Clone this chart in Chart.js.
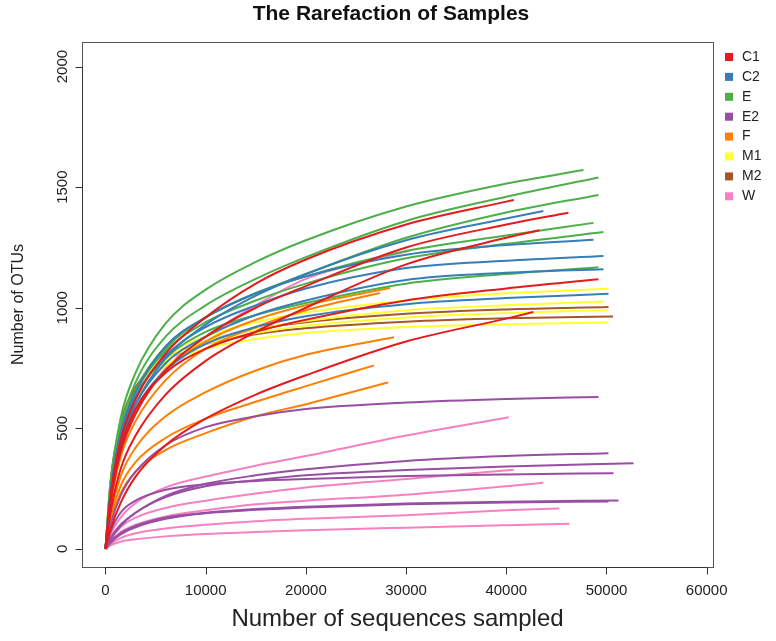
<!DOCTYPE html>
<html>
  <head>
    <meta charset="utf-8" />
    <title>The Rarefaction of Samples</title>
    <style>
      body { margin: 0; background: #fff; }
      #wrap { width: 776px; height: 641px; }
    </style>
  </head>
  <body>
    <div id="wrap"><canvas id="myChart" width="776" height="641"></canvas></div>

    <script src="https://cdn.jsdelivr.net/npm/chart.js@4/dist/chart.umd.min.js"></script>
    <script>
      const depthSteps = [0, 500, 1500, 3000, 6000, 10000, 15000, 20000, 30000, 40000];

      const groups = ["C1", "C2", "E", "E2", "F", "M1", "M2", "W"];
      const groupColors = ["#E41A1C", "#377EB8", "#4DAF4A", "#984EA3", "#FF7F00", "#FFFF33", "#A65628", "#F781BF"];

      const xTicks = [0, 10000, 20000, 30000, 40000, 50000, 60000];
      const yTicks = [0, 500, 1000, 1500, 2000];

      // OTUs at each depth step, and the last point [depth, OTUs] of each curve
      const C1_otus = [
        [0, 220, 450, 620, 810, 960, 1100, 1200, 1345, 1440],
        [0, 190, 400, 560, 740, 880, 1000, 1090, 1250, 1345],
        [0, 150, 330, 470, 640, 780, 900, 1000, 1180, 1290],
        [0, 200, 420, 580, 730, 830, 900, 950, 1030, 1080],
        [0, 80, 190, 300, 430, 540, 640, 720, 860, 955],
      ];
      const C1_last = [[40750, 1447], [46200, 1394], [43300, 1321], [49200, 1118], [42700, 982]];

      const C2_otus = [
        [0, 220, 440, 600, 790, 930, 1050, 1140, 1280, 1370],
        [0, 240, 480, 650, 840, 960, 1060, 1130, 1220, 1260],
        [0, 230, 460, 630, 800, 920, 1010, 1080, 1165, 1195],
        [0, 220, 440, 600, 770, 880, 970, 1030, 1115, 1145],
        [0, 215, 420, 580, 740, 850, 920, 965, 1015, 1040],
      ];
      const C2_last = [[43700, 1401], [48700, 1282], [49700, 1215], [49700, 1160], [50200, 1058]];

      const E_otus = [
        [0, 270, 540, 730, 935, 1075, 1190, 1280, 1420, 1515],
        [0, 250, 505, 690, 880, 1010, 1120, 1210, 1360, 1460],
        [0, 240, 480, 650, 830, 960, 1060, 1140, 1290, 1395],
        [0, 250, 490, 660, 840, 960, 1060, 1130, 1235, 1300],
        [0, 245, 480, 650, 820, 940, 1030, 1100, 1205, 1265],
        [0, 235, 460, 630, 790, 900, 970, 1020, 1100, 1140],
      ];
      const E_last = [[47700, 1571], [49200, 1540], [49200, 1468], [48700, 1352], [49700, 1314], [49200, 1168]];

      const E2_otus = [
        [0, 100, 220, 320, 430, 505, 550, 580, 607, 622],
        [0, 45, 100, 150, 220, 270, 305, 330, 365, 385],
        [0, 40, 95, 150, 215, 260, 285, 305, 327, 342],
        [0, 70, 150, 200, 245, 268, 282, 290, 302, 309],
        [0, 30, 65, 95, 130, 150, 165, 175, 188, 196],
        [0, 25, 60, 90, 125, 148, 162, 172, 185, 192],
      ];
      const E2_last = [[49200, 630], [50200, 397], [52700, 355], [50700, 314], [51200, 201], [50200, 197]];

      const F_otus = [
        [0, 200, 410, 570, 740, 860, 950, 1010],
        [0, 180, 380, 530, 700, 830, 920, 990],
        [0, 140, 300, 420, 550, 650, 740, 805],
        [0, 120, 260, 360, 460, 540, 610, 675],
        [0, 110, 230, 320, 410, 480, 550, 600],
      ];
      const F_last = [[28400, 1082], [27400, 1061], [28800, 878], [26800, 761], [28200, 690]];

      const M1_otus = [
        [0, 250, 490, 650, 800, 880, 940, 980, 1030, 1060],
        [0, 260, 500, 650, 790, 860, 910, 945, 990, 1010],
        [0, 255, 490, 640, 780, 850, 895, 925, 960, 978],
        [0, 250, 480, 620, 760, 830, 870, 895, 920, 932],
      ];
      const M1_last = [[50200, 1079], [49700, 1026], [50200, 990], [50200, 939]];

      const M2_otus = [
        [0, 280, 520, 670, 790, 860, 910, 940, 975, 993],
        [0, 270, 510, 660, 780, 850, 890, 915, 942, 956],
      ];
      const M2_last = [[50200, 1003], [50650, 964]];

      const W_otus = [
        [0, 180, 390, 560, 750, 880, 1010, 1120],
        [0, 60, 130, 190, 255, 300, 345, 385, 470],
        [0, 40, 90, 130, 170, 200, 230, 255, 290],
        [0, 30, 70, 100, 135, 160, 185, 200, 225, 260],
        [0, 20, 45, 65, 85, 100, 115, 125, 140, 160],
        [0, 15, 30, 40, 52, 62, 70, 77, 88, 98],
      ];
      const W_last = [[30400, 1237], [40250, 546], [40750, 328], [43700, 274], [45300, 168], [46300, 104]];

      const groupOtus = [C1_otus, C2_otus, E_otus, E2_otus, F_otus, M1_otus, M2_otus, W_otus];
      const groupLast = [C1_last, C2_last, E_last, E2_last, F_last, M1_last, M2_last, W_last];

      const datasets = [];
      for (let g = 0; g < groups.length; g++) {
        for (let i = 0; i < groupOtus[g].length; i++) {
          const pts = groupOtus[g][i].map((v, k) => ({ x: depthSteps[k], y: v }));
          pts.push({ x: groupLast[g][i][0], y: groupLast[g][i][1] });
          datasets.push({
            label: groups[g],
            data: pts,
            borderColor: groupColors[g],
            borderWidth: 2,
            pointRadius: 0,
            fill: false,
            cubicInterpolationMode: "monotone",
          });
        }
      }

      const FONT = "'Liberation Sans', Arial, sans-serif";

      // R style title, box, axes, rotated y labels and the legend
      const rStyle = {
        id: "rStyle",
        afterDraw(chart) {
          const ctx = chart.ctx;
          const a = chart.chartArea;
          const xs = chart.scales.x;
          const ys = chart.scales.y;
          ctx.save();
          ctx.fillStyle = "#111";
          ctx.font = "bold 21px " + FONT;
          ctx.textAlign = "center";
          ctx.textBaseline = "middle";
          ctx.fillText("The Rarefaction of Samples", 391, 14);

          ctx.strokeStyle = "#555";
          ctx.lineWidth = 1;
          ctx.strokeRect(Math.round(a.left) + 0.5, Math.round(a.top) + 0.5,
            Math.round(a.right - a.left), Math.round(a.bottom - a.top));

          ctx.strokeStyle = "#333";
          ctx.beginPath();
          const bx = Math.round(a.bottom) + 0.5;
          ctx.moveTo(xs.getPixelForValue(xTicks[0]), bx);
          ctx.lineTo(xs.getPixelForValue(xTicks[xTicks.length - 1]), bx);
          xTicks.forEach((v) => {
            const px = Math.round(xs.getPixelForValue(v)) + 0.5;
            ctx.moveTo(px, bx);
            ctx.lineTo(px, bx + 7);
          });
          const lx = Math.round(a.left) + 0.5;
          ctx.moveTo(lx, ys.getPixelForValue(yTicks[0]));
          ctx.lineTo(lx, ys.getPixelForValue(yTicks[yTicks.length - 1]));
          yTicks.forEach((v) => {
            const py = Math.round(ys.getPixelForValue(v)) + 0.5;
            ctx.moveTo(lx, py);
            ctx.lineTo(lx - 7, py);
          });
          ctx.stroke();

          ctx.fillStyle = "#222";
          ctx.font = "15px " + FONT;
          yTicks.forEach((v) => {
            ctx.save();
            ctx.translate(63, ys.getPixelForValue(v));
            ctx.rotate(-Math.PI / 2);
            ctx.fillText(String(v), 0, 0);
            ctx.restore();
          });

          ctx.font = "14px " + FONT;
          ctx.textAlign = "left";
          for (let g = 0; g < groups.length; g++) {
            const ry = 57 + g * 19.9;
            ctx.fillStyle = groupColors[g];
            ctx.fillRect(725, ry - 4, 8, 8);
            ctx.fillStyle = "#222";
            ctx.fillText(groups[g], 742, ry);
          }
          ctx.restore();
        },
      };

      const ctx1 = document.getElementById("myChart").getContext("2d");
      const myChart = new Chart(ctx1, {
        type: "line",
        data: { datasets: datasets },
        plugins: [rStyle],
        options: {
          responsive: false,
          animation: false,
          layout: { padding: { left: 0, right: 63, top: 42, bottom: 0 } },
          plugins: {
            legend: { display: false },
            tooltip: { enabled: false },
            title: { display: false },
          },
          scales: {
            x: {
              type: "linear",
              min: -2345,
              max: 60630,
              afterBuildTicks: (s) => { s.ticks = xTicks.map((v) => ({ value: v })); },
              afterFit: (s) => { s.height = 74; },
              grid: { display: false, drawTicks: false },
              border: { display: false },
              ticks: {
                color: "#222",
                padding: 15,
                maxRotation: 0,
                font: { family: FONT, size: 15 },
                callback: (v) => String(v),
              },
              title: {
                display: true,
                text: "Number of sequences sampled",
                color: "#222",
                font: { family: FONT, size: 24 },
                padding: { top: 0, bottom: 7 },
              },
            },
            y: {
              type: "linear",
              min: -75,
              max: 2102,
              afterBuildTicks: (s) => { s.ticks = yTicks.map((v) => ({ value: v })); },
              afterFit: (s) => { s.width = 82; },
              grid: { display: false, drawTicks: false },
              border: { display: false },
              ticks: { display: false },
              title: {
                display: true,
                text: "Number of OTUs",
                color: "#222",
                font: { family: FONT, size: 16 },
                padding: { top: 9, bottom: 0 },
              },
            },
          },
        },
      });
    </script>
  </body>
</html>
